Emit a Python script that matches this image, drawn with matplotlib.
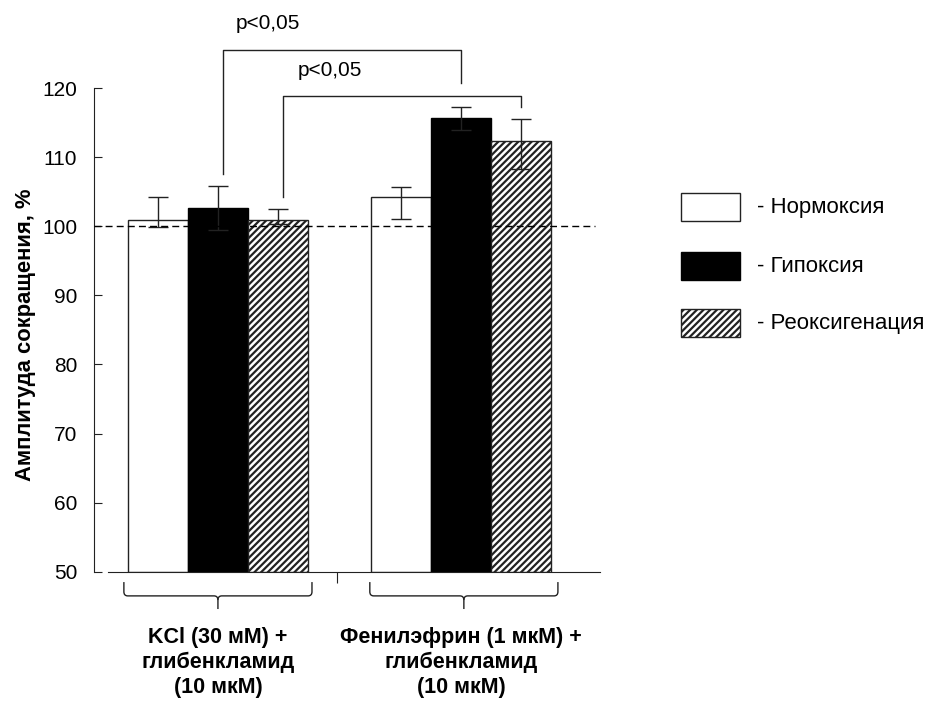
import matplotlib
matplotlib.use("Agg")
import matplotlib.pyplot as plt
from matplotlib.patches import Rectangle
from matplotlib.path import Path
from matplotlib.patches import PathPatch
import numpy as np

plt.rcParams['font.family'] = ['Liberation Sans', 'DejaVu Sans']
plt.rcParams['hatch.linewidth'] = 1.6

# data
groups = ["KCl (30 мМ) +\nглибенкламид\n(10 мкМ)",
          "Фенилэфрин (1 мкМ) +\nглибенкламид\n(10 мкМ)"]
series = ["- Нормоксия", "- Гипоксия", "- Реоксигенация"]
normoxia = [100.9, 104.2]
hypoxia = [102.6, 115.6]
reoxy = [100.9, 112.4]
err_hi_n = [3.3, 1.5]
err_lo_n = [1.0, 3.2]
err_hi_h = [3.2, 1.7]
err_lo_h = [3.2, 1.7]
err_hi_r = [1.6, 3.15]
err_lo_r = [0.65, 4.1]
yticks = [50, 60, 70, 80, 90, 100, 110, 120]
p_label = "p<0,05"

fig = plt.figure(figsize=(9.26, 7.02), dpi=100)
ax = fig.add_axes([0.1015, 0.1856, 0.5464, 0.689])

x = np.arange(len(groups))
w = 0.246
styles = [dict(facecolor='white', edgecolor='#222222', hatch=None),
          dict(facecolor='black', edgecolor='black', hatch=None),
          dict(facecolor='white', edgecolor='#222222', hatch='/////')]
vals = [normoxia, hypoxia, reoxy]
errs = [(err_lo_n, err_hi_n), (err_lo_h, err_hi_h), (err_lo_r, err_hi_r)]
for i in range(3):
    xi = x + (i - 1) * w
    ax.bar(xi, np.array(vals[i]) - 50, w, bottom=50, linewidth=1.0, zorder=2, **styles[i])
    ax.errorbar(xi, vals[i], yerr=[errs[i][0], errs[i][1]], fmt='none',
                ecolor='#222222', elinewidth=1.0, capsize=7, capthick=1.0, zorder=4)

ax.plot([-0.51, 1.551], [100, 100], ls=(0, (5, 3)), color='black', lw=1.0, zorder=5)

ax.set_xlim(-0.51, 1.572)
ax.set_ylim(50, 120)
ax.spines['top'].set_visible(False)
ax.spines['right'].set_visible(False)
ax.spines['bottom'].set_bounds(-0.453, 1.572)
ax.spines['left'].set_bounds(50, 120)
ax.spines['left'].set_color('#222222')
ax.spines['bottom'].set_color('#222222')
ax.set_yticks(yticks)
ax.tick_params(axis='y', direction='in', length=6, pad=12, labelsize=15, color='#222222')
ax.set_xticks([0.49])
ax.set_xticklabels([''])
ax.tick_params(axis='x', direction='out', length=8, color='#222222')
ax.set_ylabel("Амплитуда сокращения, %", fontsize=15.8, fontweight='bold')
ax.yaxis.set_label_coords(-0.115, 0.489)

# significance brackets
ax.plot([0.02, 0.02, 1.0, 1.0], [107.5, 125.5, 125.5, 120.7], color='#222222', lw=1.0, clip_on=False)
ax.plot([0.267, 0.267, 1.247, 1.247], [104.2, 118.8, 118.8, 117.2], color='#222222', lw=1.0, clip_on=False)
ax.text(0.206, 129.4, p_label, ha='center', va='center', fontsize=15)
ax.text(0.461, 122.6, p_label, ha='center', va='center', fontsize=15)


def brace(cx, half, ytop=48.5, ymid=46.5, ytip=44.6):
    rx, ry = 0.016, 0.6
    verts = [(cx - half, ytop), (cx - half, ymid + ry), (cx - half, ymid), (cx - half + rx, ymid),
             (cx - rx, ymid), (cx, ymid), (cx, ymid - ry), (cx, ytip)]
    codes = [Path.MOVETO, Path.LINETO, Path.CURVE3, Path.CURVE3,
             Path.LINETO, Path.CURVE3, Path.CURVE3, Path.LINETO]
    ax.add_patch(PathPatch(Path(verts, codes), fill=False, lw=1.0, ec='#222222', clip_on=False))
    verts2 = [(cx + half, ytop), (cx + half, ymid + ry), (cx + half, ymid), (cx + half - rx, ymid),
              (cx + rx, ymid), (cx, ymid), (cx, ymid - ry)]
    codes2 = [Path.MOVETO, Path.LINETO, Path.CURVE3, Path.CURVE3,
              Path.LINETO, Path.CURVE3, Path.CURVE3]
    ax.add_patch(PathPatch(Path(verts2, codes2), fill=False, lw=1.0, ec='#222222', clip_on=False))


brace(0.0, 0.387)
brace(1.012, 0.387)

for g, lab in zip([0.0, 1.0], groups):
    ax.text(g, 42.0, lab, ha='center', va='top', fontsize=15.5, fontweight='bold', linespacing=1.25)

# legend drawn by hand
fw, fh = 926, 702
for k, (y0, st) in enumerate(zip([193, 252, 309], styles)):
    rect = Rectangle((681 / fw, 1 - (y0 + 28) / fh), 59 / fw, 28 / fh, transform=fig.transFigure,
                     lw=1.0, **st)
    fig.add_artist(rect)
    fig.text(757 / fw, 1 - (y0 + 14) / fh, series[k], ha='left', va='center', fontsize=16)

fig.savefig("out.png", dpi=100)
